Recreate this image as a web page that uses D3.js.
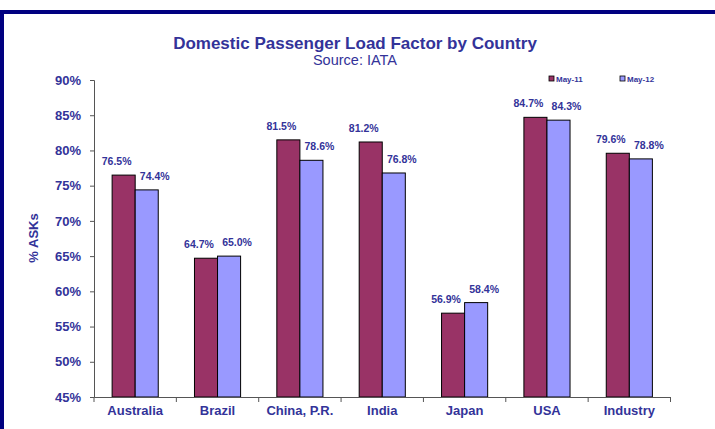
<!DOCTYPE html>
<html><head><meta charset="utf-8">
<script src="https://cdn.jsdelivr.net/npm/d3@7"></script>
<style>body{margin:0;background:#fff}text{font-family:"Liberation Sans",Arial,sans-serif}</style>
</head><body><svg id="c" width="715" height="429"></svg>
<script>
const categories = ["Australia","Brazil","China, P.R.","India","Japan","USA","Industry"];
const seriesNames = ["May-11","May-12"];
const may11 = [76.5,64.7,81.5,81.2,56.9,84.7,79.6];
const may12 = [74.4,65.0,78.6,76.8,58.4,84.3,78.8];
const yTicks = [45,50,55,60,65,70,75,80,85,90];
const colors = ["#993366","#9999FF"];
const txt = "#333399";

const svg = d3.select("#c");
svg.append("rect").attr("x",0).attr("y",10).attr("width",715).attr("height",4).attr("fill","#000080");
svg.append("rect").attr("x",0).attr("y",10).attr("width",4).attr("height",419).attr("fill","#000080");

const x = d3.scaleBand().domain(categories).range([94,670.5]);
const y = d3.scaleLinear().domain([45,90]).range([397,80]);
const bw = x.bandwidth()*0.28;
const series = [may11, may12];
const labelShift = [-7, 8];

const g = svg.append("g");
series.forEach((vals,si)=>{
  g.selectAll(null).data(categories).enter().append("rect")
    .attr("x",(c,i)=>x(c)+x.bandwidth()/2 - bw + si*bw)
    .attr("y",(c,i)=>y(vals[i]))
    .attr("width",bw).attr("height",(c,i)=>y(45)-y(vals[i]))
    .attr("fill",colors[si]).attr("stroke","#000").attr("stroke-width",1);
  g.selectAll(null).data(categories).enter().append("text")
    .attr("x",(c,i)=>x(c)+x.bandwidth()/2 - bw/2 + si*bw + labelShift[si])
    .attr("y",(c,i)=>y(vals[i])-10)
    .attr("text-anchor","middle").attr("font-size",10.5).attr("font-weight","bold")
    .attr("fill",txt).text((c,i)=>vals[i].toFixed(1)+"%");
});

// y axis
const ya = svg.append("g").attr("transform","translate(94,0)")
  .call(d3.axisLeft(y).tickValues(yTicks).tickSize(4).tickFormat(d=>d+"%"));
ya.select(".domain").attr("stroke","#555");
ya.selectAll("line").attr("stroke","#555");
ya.selectAll("text").attr("font-size",13).attr("font-weight","bold").attr("fill",txt)
  .attr("font-family","Liberation Sans, Arial, sans-serif").attr("dx",-6);

// x axis
const xa = svg.append("g").attr("transform","translate(0,397)")
  .call(d3.axisBottom(x).tickSize(0).tickSizeOuter(0));
xa.select(".domain").attr("stroke","#555");
xa.selectAll("text").attr("font-size",13).attr("font-weight","bold").attr("fill",txt)
  .attr("font-family","Liberation Sans, Arial, sans-serif").attr("dy","0.85em").attr("y",7);
const bounds = categories.map(c=>x(c)).concat([x.range()[1]]);
svg.selectAll(null).data(bounds).enter().append("line")
  .attr("x1",d=>d).attr("x2",d=>d).attr("y1",397).attr("y2",402).attr("stroke","#555");

// titles
svg.append("text").attr("x",355).attr("y",49).attr("text-anchor","middle")
  .attr("font-size",17).attr("font-weight","bold").attr("fill",txt)
  .text("Domestic Passenger Load Factor by Country");
svg.append("text").attr("x",355).attr("y",65).attr("text-anchor","middle")
  .attr("font-size",14.5).attr("fill",txt).text("Source: IATA");
svg.append("text").attr("transform","translate(38,238) rotate(-90)").attr("text-anchor","middle")
  .attr("font-size",13).attr("font-weight","bold").attr("fill",txt).text("% ASKs");

// legend
const lx = [549,620];
seriesNames.forEach((n,i)=>{
  svg.append("rect").attr("x",lx[i]).attr("y",76).attr("width",5).attr("height",5)
    .attr("fill",colors[i]).attr("stroke","#000").attr("stroke-width",0.8);
  svg.append("text").attr("x",lx[i]+7).attr("y",81.5).attr("font-size",8)
    .attr("font-weight","bold").attr("fill",txt).text(n);
});
</script></body></html>
